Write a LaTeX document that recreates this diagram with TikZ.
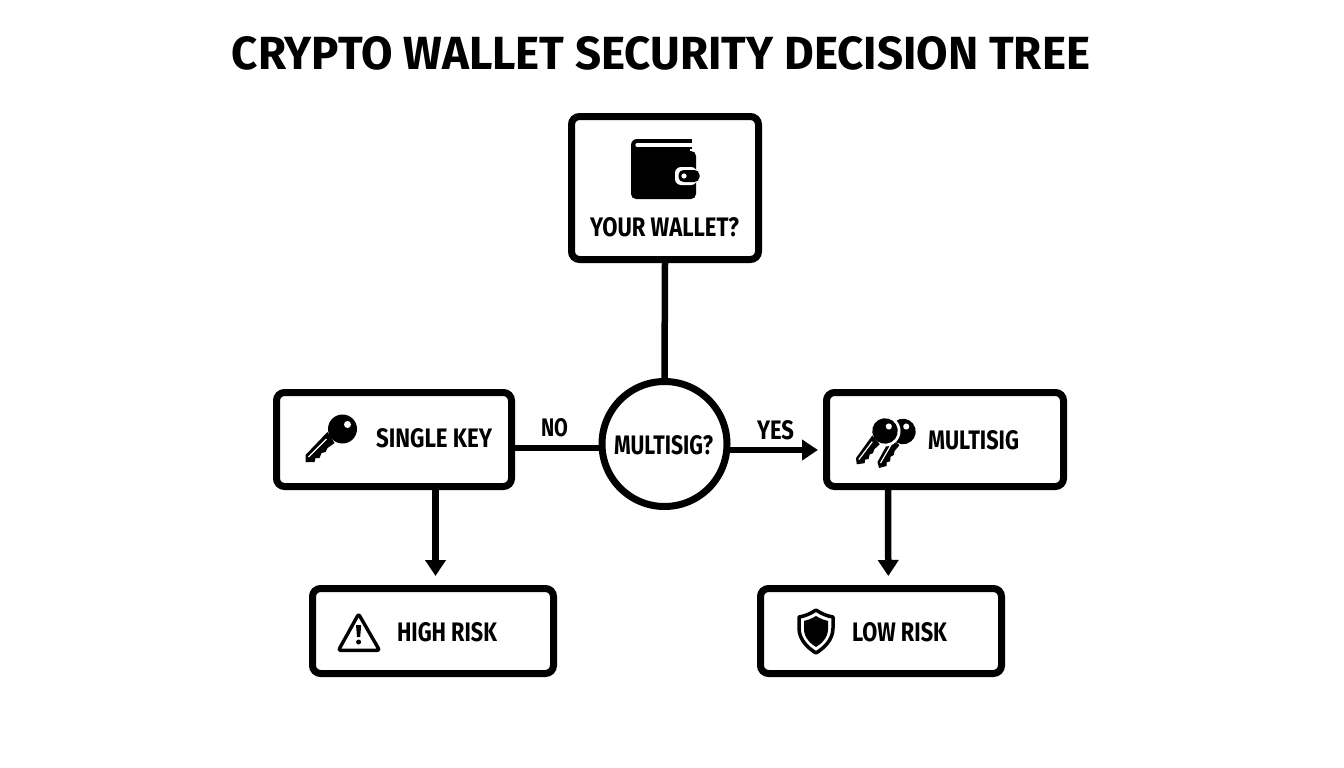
\documentclass[tikz,border=0pt]{standalone}
\usepackage{graphicx}
\usepackage{fontspec}
\setmainfont{Fira Sans}
\usetikzlibrary{arrows.meta}
\tikzset{
  flowbox/.style={draw=black,line width=7pt,fill=white,rounded corners=8pt,inner sep=0pt},
  decision/.style={draw=black,line width=7pt,fill=white,circle,inner sep=0pt,minimum size=125pt},
  lab/.style={inner sep=0pt,outer sep=0pt,text=black},
  conn/.style={draw=black,line width=6.5pt},
  arrowconn/.style={conn,-{Triangle[length=16pt,width=20pt]}},
}
\newcommand{\lbl}[3]{\resizebox{#1pt}{#2pt}{\bfseries #3}}
\newcommand{\keyicon}{%
  \fill[black] (-15,3) -- (-37,26) -- (-37,33) -- (-28,33) -- (-27,29) -- (-23,29) -- (-21,24) -- (-17,23) -- (-15,19) -- (-8,14) -- cycle;
  \fill[black] (0,0) circle[radius=14.5];
  \fill[white] (5,-4.5) circle[radius=3.5];
  \draw[white,line width=1.2pt] (-34,28) -- (-16,10);
}
\begin{document}
\begin{tikzpicture}[x=1pt,y=-1pt]
\useasboundingbox (0,0) rectangle (1344,768);
\fill[white] (0,0) rectangle (1344,768);
\node[lab] (title) at (661,53) {\lbl{858}{33}{CRYPTO WALLET SECURITY DECISION TREE}};
% boxes
\node[flowbox,minimum width=187pt,minimum height=143pt] (top) at (665,188) {};
\node[decision] (dec) at (664.5,444) {};
\node[flowbox,minimum width=235pt,minimum height=94pt] (key) at (394,439.5) {};
\node[flowbox,minimum width=237pt,minimum height=94pt] (multi) at (945,439.5) {};
\node[flowbox,minimum width=241pt,minimum height=85pt] (high) at (433,631) {};
\node[flowbox,minimum width=241pt,minimum height=85pt] (low) at (881,631) {};
% connectors
\draw[conn] (top.south) -- (dec.north);
\draw[conn] ([yshift=-8.5pt]key.east) -- ([xshift=2pt,yshift=-4pt]dec.west);
\draw[arrowconn] ([xshift=-2pt,yshift=-6pt]dec.east) -- ([xshift=-5pt,yshift=-10.5pt]multi.west);
\draw[arrowconn] ([xshift=41.5pt]key.south) -- ([xshift=2.5pt,yshift=9pt]high.north);
\draw[arrowconn] ([xshift=-57pt]multi.south) -- ([xshift=7.3pt,yshift=9pt]low.north);
% labels
\node[lab] (t1) at (664.5,227) {\lbl{149}{19}{YOUR WALLET?}};
\node[lab] (t2) at (434,438.5) {\lbl{116}{19}{SINGLE KEY}};
\node[lab] (t3) at (973.5,440) {\lbl{91}{19}{MULTISIG}};
\node[lab] (t4) at (447,632) {\lbl{100}{19}{HIGH RISK}};
\node[lab] (t5) at (899.5,632) {\lbl{95}{19}{LOW RISK}};
\node[lab] (t6) at (663.5,445) {\lbl{99}{19}{MULTISIG?}};
\node[lab] (t7) at (554.5,427.5) {\lbl{27}{18}{NO}};
\node[lab] (t8) at (775.5,430) {\lbl{37}{19}{YES}};
% wallet icon
\fill[black,rounded corners=5pt] (631,151) rectangle (696,199);
\fill[black,rounded corners=6pt] (631,139) rectangle (660,175);
\fill[black] (650,139) rectangle (692,149);
\fill[black] (650,148) rectangle (690,156);
\draw[white,line width=3.2pt,line cap=round] (692,145) -- (637,145);
\fill[white] (692,143.4) rectangle (693,146.6);
\fill[white,rounded corners=6pt] (675,167) rectangle (697,185);
\fill[black,rounded corners=5pt] (678.5,170) rectangle (699.5,182);
\fill[white] (684,176) circle[radius=2.6];
% single key
\begin{scope}[shift={(342.5,429)}]\keyicon\end{scope}
% two keys
\begin{scope}[shift={(903,431.5)},rotate=15,scale=0.88]\keyicon\end{scope}
\fill[white] (885,431) circle[radius=15.5];
\begin{scope}[shift={(885,431)},rotate=8,scale=0.88]\keyicon\end{scope}
% warning icon
\draw[black,line width=3.4pt,line join=round,rounded corners=2pt] (358.6,614) -- (338.5,650.3) -- (379.5,650.3) -- cycle;
\fill[black] (356,625) -- (361.2,625) -- (360.2,637) -- (357,637) -- cycle;
\fill[black] (358.6,642) circle[radius=2.5];
% shield icon
\draw[black,line width=3.5pt,line join=round] (816,610) .. controls (810,614) and (805,616) .. (799,617) -- (799,628) .. controls (799,640) and (808,648) .. (816,653) .. controls (824,648) and (833,640) .. (833,628) -- (833,617) .. controls (827,616) and (822,614) .. (816,610) -- cycle;
\fill[black] (816,616) .. controls (811,619) and (808,620) .. (804,621) -- (804,629) .. controls (804,638) and (811,644) .. (816,647) .. controls (821,644) and (828,638) .. (828,629) -- (828,621) .. controls (824,620) and (821,619) .. (816,616) -- cycle;
\end{tikzpicture}
\end{document}
